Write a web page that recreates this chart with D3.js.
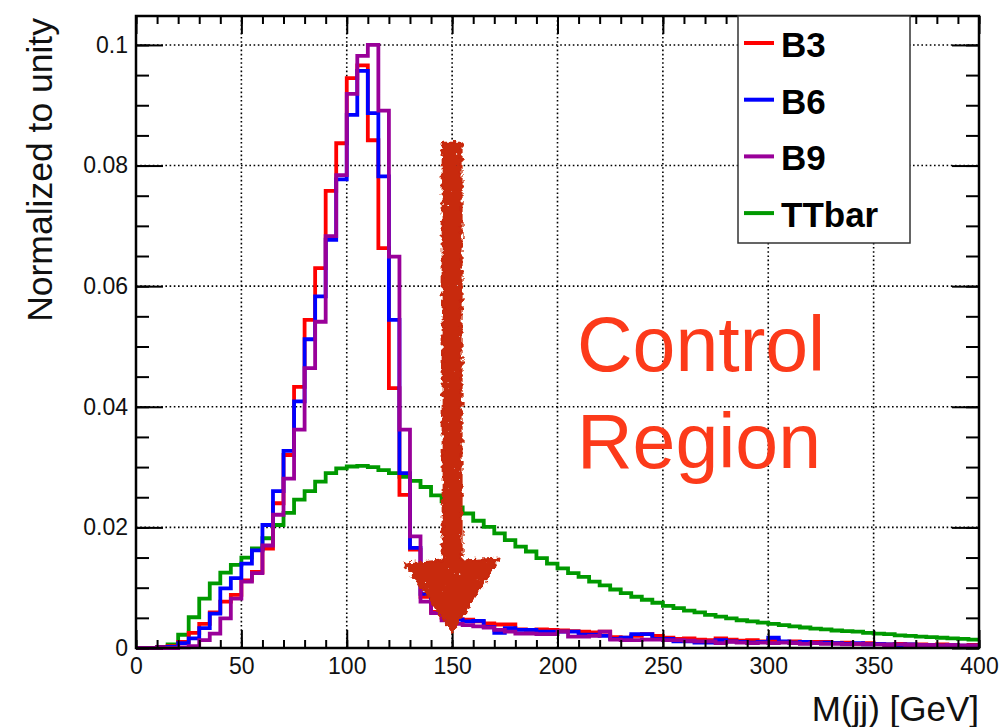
<!DOCTYPE html>
<html>
<head>
<meta charset="utf-8">
<script src="https://cdn.jsdelivr.net/npm/d3@7"></script>
<style>
  body { margin: 0; background: #fff; }
  svg { display: block; font-family: "Liberation Sans", Arial, Helvetica, sans-serif; }
</style>
</head>
<body>
<svg id="drawing_region"></svg>
<script>
// ---- data (5 GeV bins, 0-400 GeV) ----
const binWidth = 5;
const seriesNames = ['B3', 'B6', 'B9', 'TTbar'];
const seriesColors = ['#ff0000', '#0000ff', '#990099', '#009900'];

const b3 = [0, 0, 0.0002, 0.0003, 0.0010, 0.0025, 0.0040, 0.0059, 0.0077, 0.0088,
  0.0112, 0.0126, 0.0165, 0.0240, 0.0320, 0.0433, 0.0544, 0.0630, 0.0758, 0.0837,
  0.0945, 0.0966, 0.0842, 0.0663, 0.0431, 0.0254, 0.0163, 0.0085, 0.0060, 0.0050,
  0.0048, 0.0047, 0.0044, 0.0041, 0.0039, 0.0039, 0.0031, 0.0030, 0.0031, 0.0030,
  0.0029, 0.0028, 0.0027, 0.0026, 0.0027, 0.0018, 0.0017, 0.0020, 0.0023, 0.0020,
  0.0017, 0.0015, 0.0016, 0.0014, 0.0013, 0.0016, 0.0014, 0.0012, 0.0013, 0.0011,
  0.0013, 0.0010, 0.0011, 0.0009, 0.0010, 0.0010, 0.0008, 0.0009, 0.0007, 0.0008,
  0.0007, 0.0006, 0.0007, 0.0006, 0.0006, 0.0005, 0.0006, 0.0005, 0.0004, 0.0005];

const b6 = [0, 0, 0.0001, 0.0002, 0.0008, 0.0016, 0.0033, 0.0057, 0.0099, 0.0116,
  0.0140, 0.0162, 0.0204, 0.0260, 0.0327, 0.0409, 0.0512, 0.0583, 0.0677, 0.0777,
  0.0884, 0.0957, 0.0887, 0.0782, 0.0544, 0.0290, 0.0166, 0.0090, 0.0075, 0.0055,
  0.0047, 0.0044, 0.0045, 0.0035, 0.0025, 0.0033, 0.0030, 0.0030, 0.0027, 0.0027,
  0.0027, 0.0027, 0.0022, 0.0022, 0.0020, 0.0015, 0.0017, 0.0023, 0.0023, 0.0015,
  0.0015, 0.0011, 0.0011, 0.0009, 0.0009, 0.0013, 0.0011, 0.0010, 0.0009, 0.0010,
  0.0017, 0.0011, 0.0009, 0.0010, 0.0008, 0.0009, 0.0008, 0.0007, 0.0008, 0.0006,
  0.0007, 0.0006, 0.0005, 0.0006, 0.0005, 0.0005, 0.0004, 0.0005, 0.0004, 0.0004];

const b9 = [0, 0, 0, 0, 0.0001, 0.0003, 0.0013, 0.0024, 0.0049, 0.0082,
  0.0110, 0.0124, 0.0170, 0.0221, 0.0281, 0.0362, 0.0464, 0.0541, 0.0683, 0.0784,
  0.0919, 0.0982, 0.1000, 0.0891, 0.0649, 0.0362, 0.0185, 0.0077, 0.0058, 0.0046,
  0.0040, 0.0038, 0.0036, 0.0034, 0.0030, 0.0027, 0.0024, 0.0024, 0.0023, 0.0023,
  0.0027, 0.0019, 0.0019, 0.0020, 0.0027, 0.0014, 0.0013, 0.0013, 0.0014, 0.0014,
  0.0013, 0.0013, 0.0012, 0.0011, 0.0011, 0.0008, 0.0010, 0.0009, 0.0008, 0.0009,
  0.0008, 0.0009, 0.0008, 0.0007, 0.0008, 0.0007, 0.0007, 0.0006, 0.0007, 0.0006,
  0.0006, 0.0005, 0.0006, 0.0005, 0.0005, 0.0005, 0.0004, 0.0005, 0.0004, 0.0004];

const ttbar = [0, 0, 0.0001, 0.0006, 0.0022, 0.0051, 0.0082, 0.0107, 0.0125, 0.0138,
  0.0150, 0.0165, 0.0182, 0.0204, 0.0224, 0.0246, 0.0260, 0.0276, 0.0290, 0.0298,
  0.0301, 0.0302, 0.0300, 0.0295, 0.0290, 0.0284, 0.0277, 0.0267, 0.0253, 0.0243,
  0.0233, 0.0223, 0.0211, 0.0201, 0.0190, 0.0179, 0.0168, 0.0160, 0.0149, 0.0140,
  0.0132, 0.0124, 0.0118, 0.0110, 0.0104, 0.0097, 0.0091, 0.0085, 0.0080, 0.0075,
  0.0070, 0.0066, 0.0062, 0.0059, 0.0055, 0.0052, 0.0049, 0.0046, 0.0044, 0.0042,
  0.0040, 0.0038, 0.0036, 0.0034, 0.0032, 0.0031, 0.0029, 0.0028, 0.0027, 0.0025,
  0.0024, 0.0023, 0.0021, 0.0020, 0.0019, 0.0018, 0.0017, 0.0016, 0.0015, 0.0014];

const xMajorTicks = [0, 50, 100, 150, 200, 250, 300, 350, 400];
const yMajorTicks = [0, 0.02, 0.04, 0.06, 0.08, 0.1];
const yTickLabels = ['0', '0.02', '0.04', '0.06', '0.08', '0.1'];

// hand drawn arrow: x position, shaft top, head base, tip (data units), half widths (GeV)
const arrowX = 150;
const arrowVals = [0.0838, 0.0145, 0.0027];
const arrowHalf = [4.5, 22.5];

const config = {
    width: 1001,
    height: 727,
    margin: {top: 16, right: 22, bottom: 79, left: 136}
};

const svg = d3.select('#drawing_region')
    .attr('width', config.width)
    .attr('height', config.height);

const inner_width = config.width - config.margin.left - config.margin.right;
const inner_height = config.height - config.margin.top - config.margin.bottom;

const chart = svg.append('g')
    .attr('transform', `translate(${config.margin.left}, ${config.margin.top})`);

const xscale = d3.scaleLinear().domain([0, 400]).range([0, inner_width]);
const yscale = d3.scaleLinear().domain([0, 0.1048]).range([inner_height, 0]);

// grid (dotted)
chart.append('g').selectAll('line')
    .data(xMajorTicks.slice(1, -1))
    .join('line')
    .attr('x1', d => xscale(d)).attr('x2', d => xscale(d))
    .attr('y1', 0).attr('y2', inner_height)
    .attr('stroke', '#000').attr('stroke-width', 1.6)
    .attr('stroke-dasharray', '1.6 2.6');

chart.append('g').selectAll('line')
    .data(yMajorTicks.slice(1))
    .join('line')
    .attr('x1', 0).attr('x2', inner_width)
    .attr('y1', d => yscale(d)).attr('y2', d => yscale(d))
    .attr('stroke', '#000').attr('stroke-width', 1.6)
    .attr('stroke-dasharray', '1.6 2.6');

// histograms
const seriesData = [b3, b6, b9, ttbar];
const line = d3.line()
    .x(d => xscale(d[0]))
    .y(d => yscale(d[1]))
    .curve(d3.curveStepAfter);

const drawOrder = [3, 0, 1, 2];
drawOrder.forEach(k => {
    const vals = seriesData[k];
    const pts = vals.map((v, i) => [i * binWidth, v]);
    pts.push([vals.length * binWidth, vals[vals.length - 1]]);
    chart.append('path')
        .datum(pts)
        .attr('d', line)
        .attr('fill', 'none')
        .attr('stroke', seriesColors[k])
        .attr('stroke-width', 3.8)
        .attr('stroke-linejoin', 'miter');
});

// axes (ticks point inward, ROOT style)
const tickStyle = g => g.select('.domain').remove();

chart.append('g')
    .attr('transform', `translate(0, ${inner_height})`)
    .call(d3.axisBottom(xscale).ticks(40).tickFormat('').tickSizeInner(-8).tickSizeOuter(0))
    .call(tickStyle);
chart.append('g')
    .attr('transform', `translate(0, ${inner_height})`)
    .call(d3.axisBottom(xscale).tickValues(xMajorTicks).tickSizeInner(-18).tickSizeOuter(0).tickPadding(10))
    .call(tickStyle)
    .call(g => g.selectAll('text').attr('font-size', 23).attr('fill', '#111')
        .attr('font-family', '"Liberation Sans", Arial, sans-serif'));
chart.append('g')
    .call(d3.axisTop(xscale).ticks(40).tickFormat('').tickSizeInner(-8).tickSizeOuter(0))
    .call(tickStyle);
chart.append('g')
    .call(d3.axisTop(xscale).tickValues(xMajorTicks).tickFormat('').tickSizeInner(-18).tickSizeOuter(0))
    .call(tickStyle);

const yMinor = d3.range(0, 0.1001, 0.005);
chart.append('g')
    .call(d3.axisLeft(yscale).tickValues(yMinor).tickFormat('').tickSizeInner(-13).tickSizeOuter(0))
    .call(tickStyle);
chart.append('g')
    .call(d3.axisLeft(yscale).tickValues(yMajorTicks).tickFormat((d, i) => yTickLabels[i])
        .tickSizeInner(-27).tickSizeOuter(0).tickPadding(8))
    .call(tickStyle)
    .call(g => g.selectAll('text').attr('font-size', 23).attr('fill', '#111')
        .attr('font-family', '"Liberation Sans", Arial, sans-serif'));
chart.append('g')
    .attr('transform', `translate(${inner_width}, 0)`)
    .call(d3.axisRight(yscale).tickValues(yMinor).tickFormat('').tickSizeInner(-13).tickSizeOuter(0))
    .call(tickStyle);
chart.append('g')
    .attr('transform', `translate(${inner_width}, 0)`)
    .call(d3.axisRight(yscale).tickValues(yMajorTicks).tickFormat('').tickSizeInner(-27).tickSizeOuter(0))
    .call(tickStyle);

chart.selectAll('.tick line').attr('stroke', '#000').attr('stroke-width', 2);

// frame
chart.append('rect')
    .attr('x', 0).attr('y', 0)
    .attr('width', inner_width).attr('height', inner_height)
    .attr('fill', 'none').attr('stroke', '#000').attr('stroke-width', 2.5);

// axis titles
svg.append('text')
    .attr('x', config.margin.left + inner_width)
    .attr('y', 721)
    .attr('text-anchor', 'end')
    .attr('font-size', 35)
    .attr('fill', '#111')
    .text('M(jj) [GeV]');

svg.append('text')
    .attr('transform', 'translate(52, 18) rotate(-90)')
    .attr('text-anchor', 'end')
    .attr('font-size', 35.5)
    .attr('fill', '#111')
    .text('Normalized to unity');

// legend
const legend = svg.append('g').attr('transform', 'translate(738, 16)');
legend.append('rect')
    .attr('width', 172).attr('height', 227)
    .attr('fill', '#fff').attr('stroke', '#333').attr('stroke-width', 1.5);
seriesNames.forEach((name, i) => {
    const yy = 27 + i * 56.7;
    legend.append('line')
        .attr('x1', 6).attr('x2', 36)
        .attr('y1', yy).attr('y2', yy)
        .attr('stroke', seriesColors[i]).attr('stroke-width', 4);
    legend.append('text')
        .attr('x', 43).attr('y', yy + 14)
        .attr('font-size', 35).attr('font-weight', 'bold')
        .attr('fill', '#000')
        .text(name);
});

// annotation: hand drawn arrow (rough edges + a few speckles)
const defs = svg.append('defs');
const filt = defs.append('filter').attr('id', 'rough')
    .attr('x', '-20%').attr('y', '-10%').attr('width', '140%').attr('height', '120%');
filt.append('feTurbulence').attr('type', 'fractalNoise')
    .attr('baseFrequency', 0.22).attr('numOctaves', 2).attr('seed', 4).attr('result', 'noise');
filt.append('feDisplacementMap').attr('in', 'SourceGraphic').attr('in2', 'noise')
    .attr('scale', 8).attr('xChannelSelector', 'R').attr('yChannelSelector', 'G').attr('result', 'disp');
filt.append('feTurbulence').attr('type', 'fractalNoise')
    .attr('baseFrequency', 0.35).attr('numOctaves', 1).attr('seed', 11).attr('result', 'n2');
filt.append('feColorMatrix').attr('in', 'n2').attr('type', 'matrix')
    .attr('values', '0 0 0 0 0  0 0 0 0 0  0 0 0 0 0  -16 0 0 0 4.0').attr('result', 'holes');
filt.append('feComposite').attr('in', 'disp').attr('in2', 'holes').attr('operator', 'out');

const ax = xscale(arrowX);
const sw = xscale(arrowHalf[0]) - xscale(0);
const hw = xscale(arrowHalf[1]) - xscale(0);
const arrowPath = d3.path();
arrowPath.moveTo(ax - sw, yscale(arrowVals[0]));
arrowPath.lineTo(ax + sw, yscale(arrowVals[0]));
arrowPath.lineTo(ax + sw, yscale(arrowVals[1]));
arrowPath.lineTo(ax + hw, yscale(arrowVals[1]) - 2);
arrowPath.lineTo(ax, yscale(arrowVals[2]));
arrowPath.lineTo(ax - hw, yscale(arrowVals[1]) + 3);
arrowPath.lineTo(ax - sw, yscale(arrowVals[1]));
arrowPath.closePath();
chart.append('path')
    .attr('d', arrowPath.toString())
    .attr('fill', '#c8290b')
    .attr('stroke', '#c8290b')
    .attr('stroke-width', 2)
    .attr('filter', 'url(#rough)');

// annotation text
const note = svg.append('text')
    .attr('font-size', 77)
    .attr('fill', '#fc3a1a');
note.append('tspan').attr('x', 577).attr('y', 371).text('Control');
note.append('tspan').attr('x', 577).attr('y', 468).text('Region');
</script>
</body>
</html>
